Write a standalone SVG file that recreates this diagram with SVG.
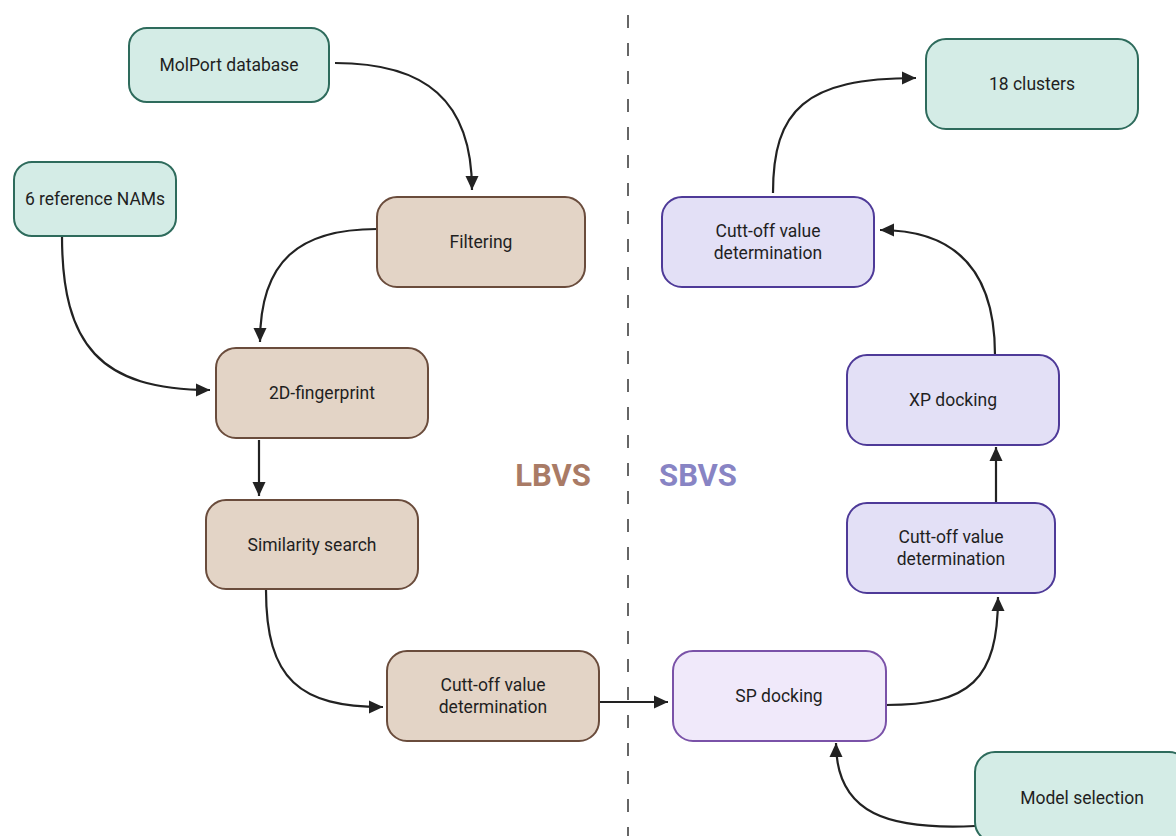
<svg xmlns="http://www.w3.org/2000/svg" width="1176" height="836" viewBox="0 0 1176 836">
<style>
.t{font-family:Roboto,"Liberation Sans",sans-serif;font-size:17.5px;fill:#1f1f1f;text-anchor:middle;dominant-baseline:central}
.g rect{fill:#d4ece6;stroke:#2e6b5c;stroke-width:2}
.b rect{fill:#e3d4c6;stroke:#6a4c3c;stroke-width:2}
.p rect{fill:#e3e0f6;stroke:#4e3a98;stroke-width:2}
.sp rect{fill:#f0e9fa;stroke:#7a52a8;stroke-width:2}
.c path{fill:none;stroke:#222;stroke-width:2.2}
.lbl{font-family:Roboto,"Liberation Sans",sans-serif;font-size:31px;font-weight:bold;text-anchor:middle;dominant-baseline:central}
</style>
<defs>
<marker id="ah" markerUnits="userSpaceOnUse" markerWidth="15" markerHeight="15" viewBox="0 0 15 15" refX="14" refY="7.5" orient="auto">
<path d="M0,1 L14,7.5 L0,14 z" fill="#222"/>
</marker>
</defs>
<rect width="1176" height="836" fill="#fff"/>
<line x1="628" y1="15" x2="628" y2="836" stroke="#666" stroke-width="2" stroke-dasharray="13,15"/>
<text class="lbl" x="553" y="475" fill="#a97b66">LBVS</text>
<text class="lbl" x="698" y="475" fill="#8884c4">SBVS</text>
<g id="connectors" class="c">
<path d="M335,63 C425,63 472,100 472,190" marker-end="url(#ah)"/>
<path d="M377,229 C300,229 260,260 260,342" marker-end="url(#ah)"/>
<path d="M62,236 C62,345 100,390 210,390" marker-end="url(#ah)"/>
<path d="M259,440 L259,496" marker-end="url(#ah)"/>
<path d="M266,590 C266,680 300,707 383,707" marker-end="url(#ah)"/>
<path d="M599,702 L668,702" marker-end="url(#ah)"/>
<path d="M886,705 C970,705 998,680 998,597" marker-end="url(#ah)"/>
<path d="M996,503 L996,447" marker-end="url(#ah)"/>
<path d="M995,355 C995,275 960,230 880,230" marker-end="url(#ah)"/>
<path d="M773,193 C773,110 805,78 916,78" marker-end="url(#ah)"/>
<path d="M975,826 C890,830 836,815 836,743" marker-end="url(#ah)"/>
</g>
<g id="molport" class="g"><rect x="129" y="28" width="200" height="74" rx="18"/><text class="t" x="229" y="65">MolPort database</text></g>
<g id="nams" class="g"><rect x="14" y="162" width="162" height="74" rx="18"/><text class="t" x="95" y="199">6 reference NAMs</text></g>
<g id="filtering" class="b"><rect x="377" y="197" width="208" height="90" rx="20"/><text class="t" x="481" y="242">Filtering</text></g>
<g id="fingerprint" class="b"><rect x="216" y="348" width="212" height="90" rx="20"/><text class="t" x="322" y="393">2D-fingerprint</text></g>
<g id="similarity" class="b"><rect x="206" y="500" width="212" height="89" rx="20"/><text class="t" x="312" y="545">Similarity search</text></g>
<g id="cutoff-lbvs" class="b"><rect x="387" y="651" width="212" height="90" rx="20"/><text class="t" x="493" y="685">Cutt-off value</text><text class="t" x="493" y="707">determination</text></g>
<g id="sp" class="sp"><rect x="673" y="651" width="213" height="90" rx="20"/><text class="t" x="779" y="696">SP docking</text></g>
<g id="model" class="g"><rect x="975" y="752" width="214" height="90" rx="20"/><text class="t" x="1082" y="798">Model selection</text></g>
<g id="cutoff-sbvs1" class="p"><rect x="847" y="503" width="208" height="90" rx="20"/><text class="t" x="951" y="537">Cutt-off value</text><text class="t" x="951" y="559">determination</text></g>
<g id="xp" class="p"><rect x="847" y="355" width="212" height="90" rx="20"/><text class="t" x="953" y="400">XP docking</text></g>
<g id="cutoff-sbvs2" class="p"><rect x="662" y="197" width="212" height="90" rx="20"/><text class="t" x="768" y="231">Cutt-off value</text><text class="t" x="768" y="253">determination</text></g>
<g id="clusters" class="g"><rect x="926" y="39" width="212" height="90" rx="20"/><text class="t" x="1032" y="84">18 clusters</text></g>
</svg>
